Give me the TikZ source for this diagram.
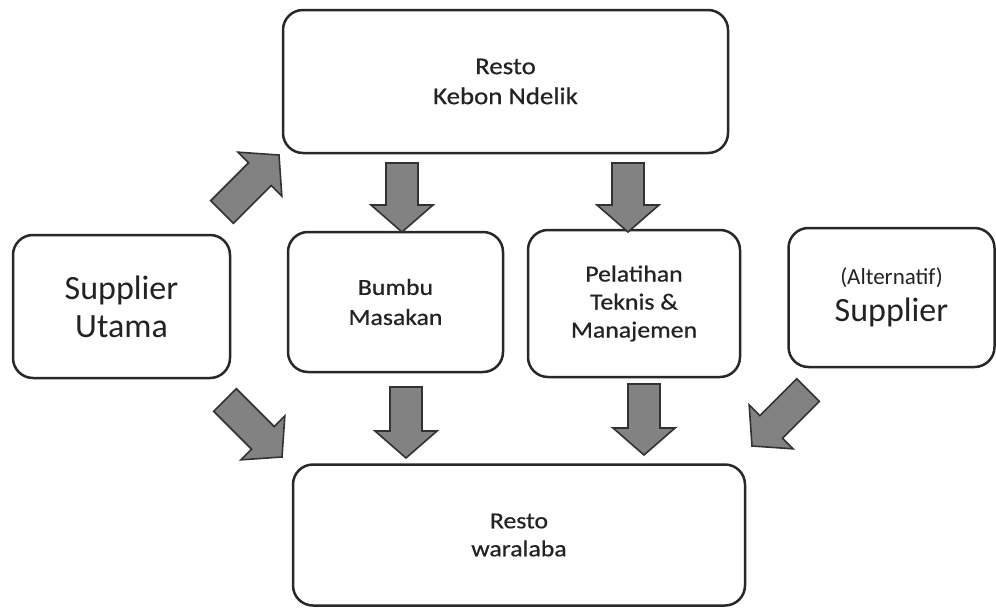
\documentclass[tikz,border=0pt]{standalone}
\usepackage{fontspec}
\setmainfont{Carlito}
\newfontfamily\smallf{Carlito}[FakeStretch=1.12,FakeBold=0.6]
\usetikzlibrary{calc}
\definecolor{boxline}{RGB}{40,40,40}
\definecolor{txt}{RGB}{35,35,35}
\definecolor{arrfill}{RGB}{130,130,130}
\definecolor{arrline}{RGB}{50,50,50}
\tikzset{
  box/.style={draw=boxline, line width=2.5pt, rounded corners=20pt, align=center, text=txt, inner sep=0pt},
  smalltext/.style={font=\smallf\fontsize{23}{28}\selectfont},
  bigtext/.style={font=\fontsize{34}{38}\selectfont},
  blockarr/.style={fill=arrfill, draw=arrline, line width=1.6pt, line join=miter},
}
\newcommand\blockarrow[2]{%
  \coordinate (#2h) at ($(#2)!27pt!(#1)$);
  \draw[blockarr] ($(#1)!16pt!90:(#2)$) -- ($(#2h)!16pt!90:(#2)$) -- ($(#2h)!31pt!90:(#2)$)
    -- (#2) -- ($(#2h)!31pt!-90:(#2)$) -- ($(#2h)!16pt!-90:(#2)$) -- ($(#1)!16pt!-90:(#2)$) -- cycle;
}
\begin{document}
\begin{tikzpicture}[x=1pt,y=-1pt]
\useasboundingbox (0,0) rectangle (996,608);
\fill[white] (0,0) rectangle (996,608);
% boxes
\node[box, font=\smallf\fontsize{24}{30}\selectfont, minimum width=445pt, minimum height=143pt] (resto) at (505.5,81.5) {Resto\\Kebon Ndelik};
\node[box, bigtext, minimum width=217pt, minimum height=143pt] (sup) at (121.5,306.5) {Supplier\\Utama};
\node[box, font=\smallf\fontsize{23}{30}\selectfont, minimum width=215pt, minimum height=140pt] (bumbu) at (395.5,302) {Bumbu\\Masakan};
\node[box, smalltext, minimum width=212pt, minimum height=147pt] (pel) at (634,303.5) {Pelatihan\\Teknis \&\\Manajemen};
\node[box, font=\fontsize{34}{37}\selectfont, minimum width=206pt, minimum height=139pt] (alt) at (891.5,297.5) {{\fontsize{23}{28}\selectfont (Alternatif)}\\Supplier};
\node[box, smalltext, minimum width=452pt, minimum height=141pt] (wara) at (519,535) {Resto\\waralaba};
% arrows
\coordinate (a1t) at (402,163); \coordinate (a1p) at (402,232);
\coordinate (a2t) at (628,163); \coordinate (a2p) at (628,232);
\coordinate (a3t) at (406,387); \coordinate (a3p) at (406,458);
\coordinate (a4t) at (644,384); \coordinate (a4p) at (644,455);
\coordinate (a5t) at (222,212); \coordinate (a5p) at (279,155);
\coordinate (a6t) at (225,400); \coordinate (a6p) at (282,457);
\coordinate (a7t) at (808,390); \coordinate (a7p) at (752,446);
\blockarrow{a1t}{a1p}
\blockarrow{a2t}{a2p}
\blockarrow{a3t}{a3p}
\blockarrow{a4t}{a4p}
\blockarrow{a5t}{a5p}
\blockarrow{a6t}{a6p}
\blockarrow{a7t}{a7p}
\end{tikzpicture}
\end{document}
